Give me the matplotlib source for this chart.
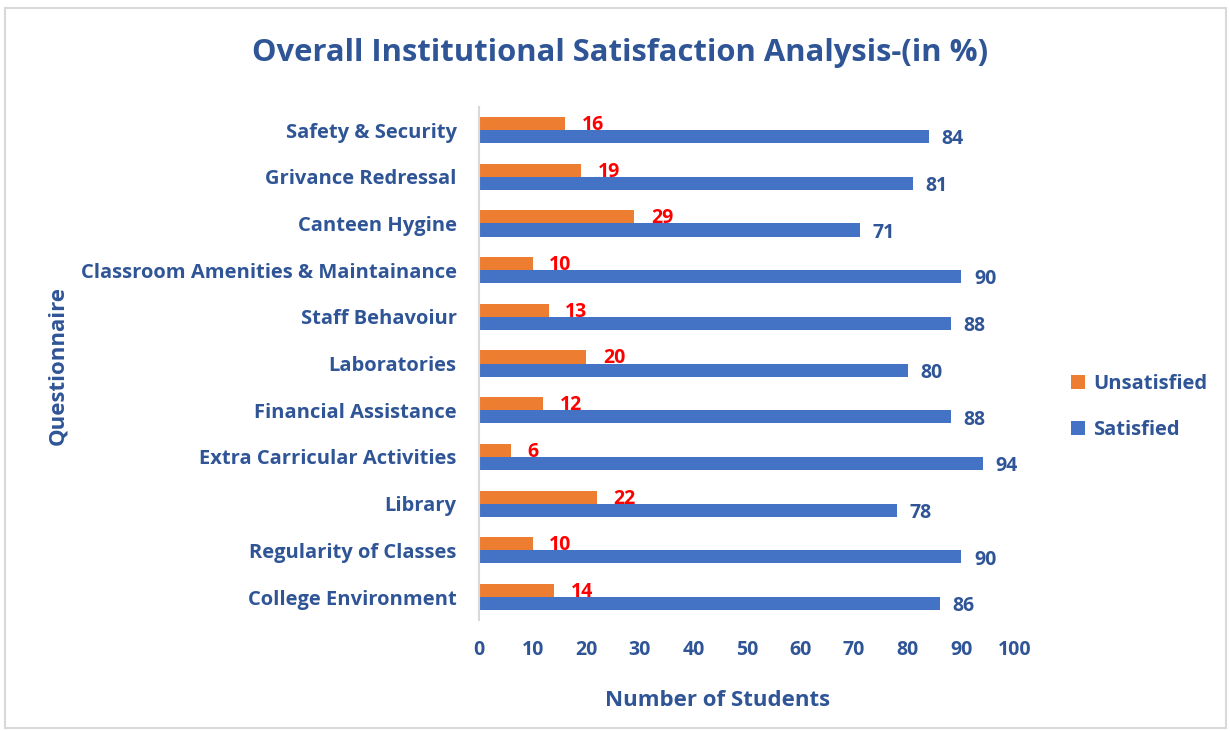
import matplotlib
matplotlib.use("Agg")
from matplotlib import pyplot as plt
from matplotlib.patches import Rectangle
import numpy as np

# data (bottom to top)
questions = ["College Environment", "Regularity of Classes", "Library",
             "Extra Carricular Activities", "Financial Assistance", "Laboratories",
             "Staff Behavoiur", "Classroom Amenities & Maintainance",
             "Canteen Hygine", "Grivance Redressal", "Safety & Security"]
satisfied = [86, 90, 78, 94, 88, 80, 88, 90, 71, 81, 84]
unsatisfied = [14, 10, 22, 6, 12, 20, 13, 10, 29, 19, 16]

plt.rcParams['font.family'] = ['Open Sans', 'DejaVu Sans']
plt.rcParams['font.weight'] = 'bold'

navy = '#2F5597'
orange = '#ED7D31'
blue = '#4472C4'

fig = plt.figure(figsize=(12.3, 7.31), dpi=100)
ax = fig.add_axes([0.3894, 0.1513, 0.4358, 0.7027])

y = np.arange(len(questions))
h = 0.28
b_sat = ax.barh(y - h / 2, satisfied, height=h, color=blue, label='Satisfied')
b_uns = ax.barh(y + h / 2, unsatisfied, height=h, color=orange, label='Unsatisfied')

# value labels
for bar, v in zip(b_sat, satisfied):
    ax.annotate(str(v), (bar.get_width(), bar.get_y() + bar.get_height() / 2),
                xytext=(9, -2), textcoords='offset points', va='center', ha='left',
                color=navy, fontsize=14, fontweight='bold')
for bar, v in zip(b_uns, unsatisfied):
    ax.annotate(str(v), (bar.get_width(), bar.get_y() + bar.get_height() / 2),
                xytext=(12, -1), textcoords='offset points', va='center', ha='left',
                color='#FF0000', fontsize=14, fontweight='bold')

ax.set_xlim(0, 100)
ax.set_ylim(-0.5, len(questions) - 0.5)
ax.set_xticks(range(0, 101, 10))
ax.set_yticks(y)
ax.set_yticklabels(questions)
ax.tick_params(axis='x', length=0, pad=14, labelsize=14, labelcolor=navy)
ax.tick_params(axis='y', length=0, pad=16, labelsize=14.5, labelcolor=navy)

for s in ['top', 'right', 'bottom']:
    ax.spines[s].set_visible(False)
ax.spines['left'].set_color('#D9D9D9')
ax.spines['left'].set_linewidth(1.5)

ax.set_xlabel('Number of Students', fontsize=16, color=navy, fontweight='bold', labelpad=20)
ax.xaxis.set_label_coords(0.446, -0.135)
fig.text(0.047, 0.50, 'Questionnaire', rotation=90, ha='center', va='center',
         fontsize=16, color=navy, fontweight='bold')
fig.text(0.504, 0.928, 'Overall Institutional Satisfaction Analysis-(in %)',
         ha='center', va='center', fontsize=22.3, color=navy, fontweight='bold')

leg = ax.legend(handles=[b_uns, b_sat], loc='center left', bbox_to_anchor=(1.07, 0.415),
                frameon=False, fontsize=14.5, labelcolor=navy, handlelength=0.7,
                handleheight=0.7, handletextpad=0.4, labelspacing=1.3)

# light frame around the chart
fig.patches.append(Rectangle((0.004, 0.004), 0.993, 0.985, transform=fig.transFigure,
                             fill=False, edgecolor='#D9D9D9', linewidth=1.5))

plt.savefig('out.png', dpi=100)
